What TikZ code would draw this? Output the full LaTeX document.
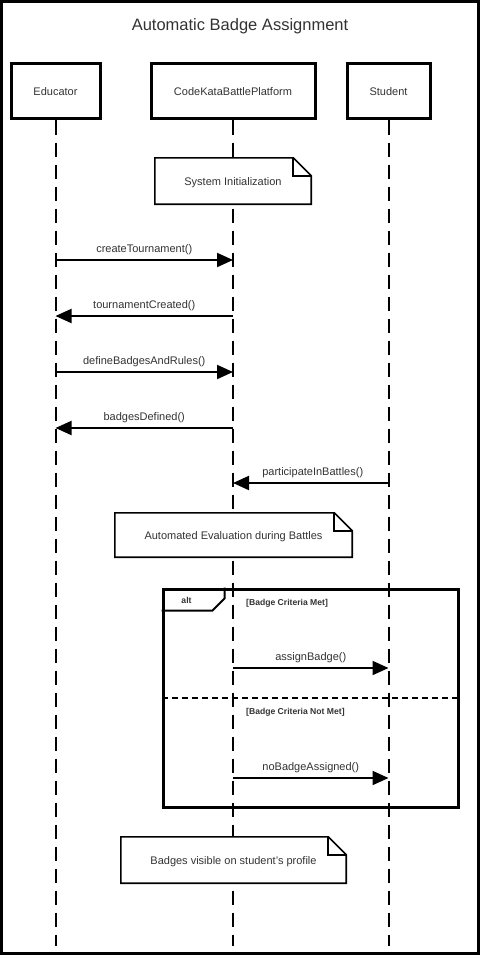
\documentclass[tikz,border=0pt]{standalone}
\usepackage{fontspec}
\setmainfont{Liberation Sans}
\usetikzlibrary{arrows.meta,calc}
\definecolor{txt}{HTML}{333333}
% note outline with a folded top-right corner, drawn around a named node
\newcommand{\dognote}[3]{%
  \draw[noteline] (#1.north west) -- ($(#1.north east)+(-#2,0)$) -- ($(#1.north east)+(0,#2)$)
    -- (#1.south east) -- (#1.south west) -- cycle;
  \draw[noteline,fill=none] ($(#1.north east)+(-#2,0)$) |- ($(#1.north east)+(0,#2)$);
  \node[notebox] (#1text) at ($(#1.center)+(0,2)$) {#3};}
\begin{document}
\begin{tikzpicture}[x=1pt,y=-1pt,
  lbl/.style={text=txt,font=\fontsize{11}{13}\selectfont},
  participant/.style={draw=black,line width=3pt,fill=white,minimum height=55pt,inner sep=0pt,lbl},
  lifeline/.style={line width=2pt,dash pattern=on 14pt off 8pt},
  msg/.style={line width=2pt,-{Triangle[length=16pt,width=14pt]}},
  notebox/.style={inner sep=0pt,lbl},
  noteline/.style={line width=1.6pt,fill=white,line join=miter},
  altframe/.style={draw=black,line width=3pt,inner sep=0pt},
  guard/.style={text=txt,font=\fontsize{8.6}{10}\bfseries\selectfont,inner sep=0pt,anchor=west}]
\useasboundingbox (0,0) rectangle (480,955);
\fill[white] (0,0) rectangle (480,955);
\draw[line width=3pt] (1.5,1.5) rectangle (478.5,953);

% title
\node[text=txt,font=\fontsize{16.5}{19}\selectfont] (title) at (240,26) {Automatic Badge Assignment};

% participants
\node[participant,minimum width=89pt] (edu) at (55.5,91.5) {Educator};
\node[participant,minimum width=164pt] (plat) at (233,91.5) {CodeKataBattlePlatform};
\node[participant,minimum width=83pt] (stu) at (388.5,91.5) {Student};

% lifelines
\coordinate (eduEnd) at (55.5,946);
\coordinate (platEnd) at (233,946);
\coordinate (stuEnd) at (388.5,946);
\draw[lifeline] (edu.south) -- (eduEnd);
\draw[lifeline] (plat.south) -- (platEnd);
\draw[lifeline] (stu.south) -- (stuEnd);

\node[notebox,minimum width=156pt,minimum height=46pt] (n1) at (233,181) {};
\dognote{n1}{18}{System Initialization}

% messages
\coordinate (e1) at (55.5,260); \coordinate (p1) at (233,260);
\coordinate (e2) at (55.5,316); \coordinate (p2) at (233,316);
\coordinate (e3) at (55.5,372); \coordinate (p3) at (233,372);
\coordinate (e4) at (55.5,428); \coordinate (p4) at (233,428);
\coordinate (s5) at (388.5,483); \coordinate (p5) at (233,483);
\draw[msg] (e1) -- node[lbl,above=1pt] {createTournament()} (p1);
\draw[msg] (p2) -- node[lbl,above=1pt] {tournamentCreated()} (e2);
\draw[msg] (e3) -- node[lbl,above=1pt] {defineBadgesAndRules()} (p3);
\draw[msg] (p4) -- node[lbl,above=1pt] {badgesDefined()} (e4);
\draw[msg] (s5) -- node[lbl,above=1pt,xshift=2pt] {participateInBattles()} (p5);

\node[notebox,minimum width=237pt,minimum height=44pt] (n2) at (233.5,535) {};
\dognote{n2}{18}{Automated Evaluation during Battles}

% alt combined fragment
\node[altframe,minimum width=295pt,minimum height=218pt] (alt) at (310.5,698) {};
\draw[line width=2pt,line join=miter] ($(alt.north west)+(0,23)$) -- ($(alt.north west)+(51,23)$)
  -- ($(alt.north west)+(63,11)$) -- ($(alt.north west)+(63,0)$);
\node[guard,anchor=center] (altlbl) at ($(alt.north west)+(25,13)$) {alt};
\node[guard] (g1) at (246,603) {[Badge Criteria Met]};
\draw[line width=2.6pt,dash pattern=on 6pt off 4pt] (alt.west) -- (alt.east);
\node[guard] (g2) at (246,712) {[Badge Criteria Not Met]};

\coordinate (p6) at (233,668); \coordinate (s6) at (388.5,668);
\coordinate (p7) at (233,778); \coordinate (s7) at (388.5,778);
\draw[msg] (p6) -- node[lbl,above=1pt] {assignBadge()} (s6);
\draw[msg] (p7) -- node[lbl,above=1pt] {noBadgeAssigned()} (s7);

\node[notebox,minimum width=225pt,minimum height=46pt] (n3) at (233.5,860) {};
\dognote{n3}{18}{Badges visible on student\char"0027 s profile}
\end{tikzpicture}
\end{document}
